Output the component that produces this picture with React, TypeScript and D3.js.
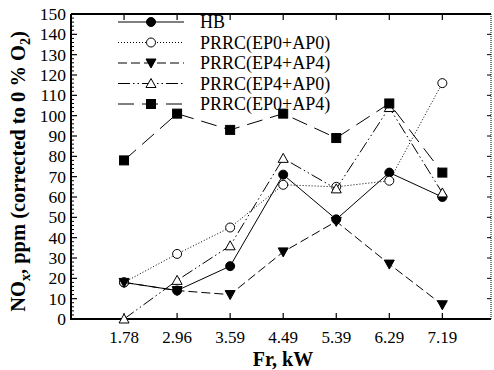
import React from 'react';
import * as d3 from 'd3';

const categories = ['1.78', '2.96', '3.59', '4.49', '5.39', '6.29', '7.19'];
const hb = [18, 14, 26, 71, 49, 72, 60];
const ep0ap0 = [18, 32, 45, 66, 65, 68, 116];
const ep4ap4 = [18, 14, 12, 33, 48, 27, 7];
const ep4ap0 = [0, 19, 36, 79, 64, 104, 62];
const ep0ap4 = [78, 101, 93, 101, 89, 106, 72];
const yTicks = d3.range(0, 151, 10);

const seriesList = [
  { name: 'HB', values: hb, dash: '', marker: 'circle', filled: true },
  { name: 'PRRC(EP0+AP0)', values: ep0ap0, dash: '1,2', marker: 'circle', filled: false },
  { name: 'PRRC(EP4+AP4)', values: ep4ap4, dash: '9,4', marker: 'down', filled: true },
  { name: 'PRRC(EP4+AP0)', values: ep4ap0, dash: '12,3,1.5,3,1.5,3', marker: 'up', filled: false },
  { name: 'PRRC(EP0+AP4)', values: ep0ap4, dash: '16,8', marker: 'square', filled: true },
];

const font = '"Liberation Serif", "Times New Roman", serif';

const Marker = ({ type, filled, x, y }) => {
  const fill = filled ? '#000' : '#fff';
  if (type === 'circle') return <circle cx={x} cy={y} r={4.5} fill={fill} stroke="#000" strokeWidth={1} />;
  if (type === 'square') return <rect x={x - 4.5} y={y - 4.5} width={9} height={9} fill={fill} stroke="#000" />;
  if (type === 'down') return <path d={`M${x - 5},${y - 4}L${x + 5},${y - 4}L${x},${y + 5}Z`} fill={fill} stroke="#000" />;
  return <path d={`M${x - 5},${y + 4}L${x + 5},${y + 4}L${x},${y - 5}Z`} fill={fill} stroke="#000" />;
};

export default function App() {
  const left = 71, right = 491, top = 14, bottom = 319;
  const x = d3.scaleLinear().domain([0, 8]).range([left, 495.4]);
  const y = d3.scaleLinear().domain([0, 150]).range([bottom, top]);
  const line = d3.line<number>().x((d, i) => x(i + 1)).y(d => y(d));
  const minor = d3.range(0, 151, 2).filter(v => v % 10 !== 0);

  return (
    <svg width={494} height={370} style={{ position: 'absolute', left: 0, top: 0, background: '#fff' }} fontFamily={font}>
      {/* frame */}
      <path d={`M${left},${top}H${right}M${left},${top}V${bottom}H${right}`} stroke="#000" strokeWidth={2} fill="none" />
      <line x1={right} x2={right} y1={top} y2={bottom} stroke="#000" strokeWidth={1} strokeDasharray="1,1" />

      {/* y ticks */}
      {yTicks.map(t => (
        <g key={t}>
          <line x1={left} x2={left + 6} y1={y(t)} y2={y(t)} stroke="#000" strokeWidth={1.2} />
          <line x1={right} x2={right - 4} y1={y(t)} y2={y(t)} stroke="#000" strokeWidth={1} />
          <text x={left - 5} y={y(t)} dy="0.35em" textAnchor="end" fontSize={17.5}>{t}</text>
        </g>
      ))}
      {minor.map(t => (
        <line key={t} x1={left} x2={left + 3} y1={y(t)} y2={y(t)} stroke="#000" strokeWidth={1} />
      ))}

      {/* x ticks */}
      {categories.map((c, i) => (
        <g key={c}>
          <line x1={x(i + 1)} x2={x(i + 1)} y1={bottom} y2={bottom - 6} stroke="#000" strokeWidth={1.2} />
          <line x1={x(i + 1)} x2={x(i + 1)} y1={top} y2={top + 6} stroke="#000" strokeWidth={1.2} />
          <text x={x(i + 1)} y={343} textAnchor="middle" fontSize={17}>{c}</text>
        </g>
      ))}

      {/* series */}
      {seriesList.map(s => (
        <g key={s.name}>
          <path d={line(s.values)} fill="none" stroke="#000" strokeWidth={1} strokeDasharray={s.dash} />
          {s.values.map((v, i) => (
            <Marker key={i} type={s.marker} filled={s.filled} x={x(i + 1)} y={y(v)} />
          ))}
        </g>
      ))}

      {/* legend */}
      {seriesList.map((s, i) => {
        const ly = 22 + i * 20.5;
        return (
          <g key={s.name}>
            <line x1={118} x2={184} y1={ly} y2={ly} stroke="#000" strokeWidth={1} strokeDasharray={s.dash} />
            <Marker type={s.marker} filled={s.filled} x={151} y={ly} />
            <text x={200} y={ly} dy="0.35em" fontSize={18}>{s.name}</text>
          </g>
        );
      })}

      {/* axis titles */}
      <text x={283} y={366} textAnchor="middle" fontSize={20} fontWeight="bold">Fr, kW</text>
      <text transform={`translate(25,${(top + bottom) / 2 + 5}) rotate(-90)`} textAnchor="middle" fontSize={20.5} fontWeight="bold">
        NO<tspan fontSize={14} dy={5}>x</tspan><tspan dy={-5}>, ppm (corrected to 0 % O</tspan><tspan fontSize={14} dy={5}>2</tspan><tspan dy={-5}>)</tspan>
      </text>
    </svg>
  );
}
